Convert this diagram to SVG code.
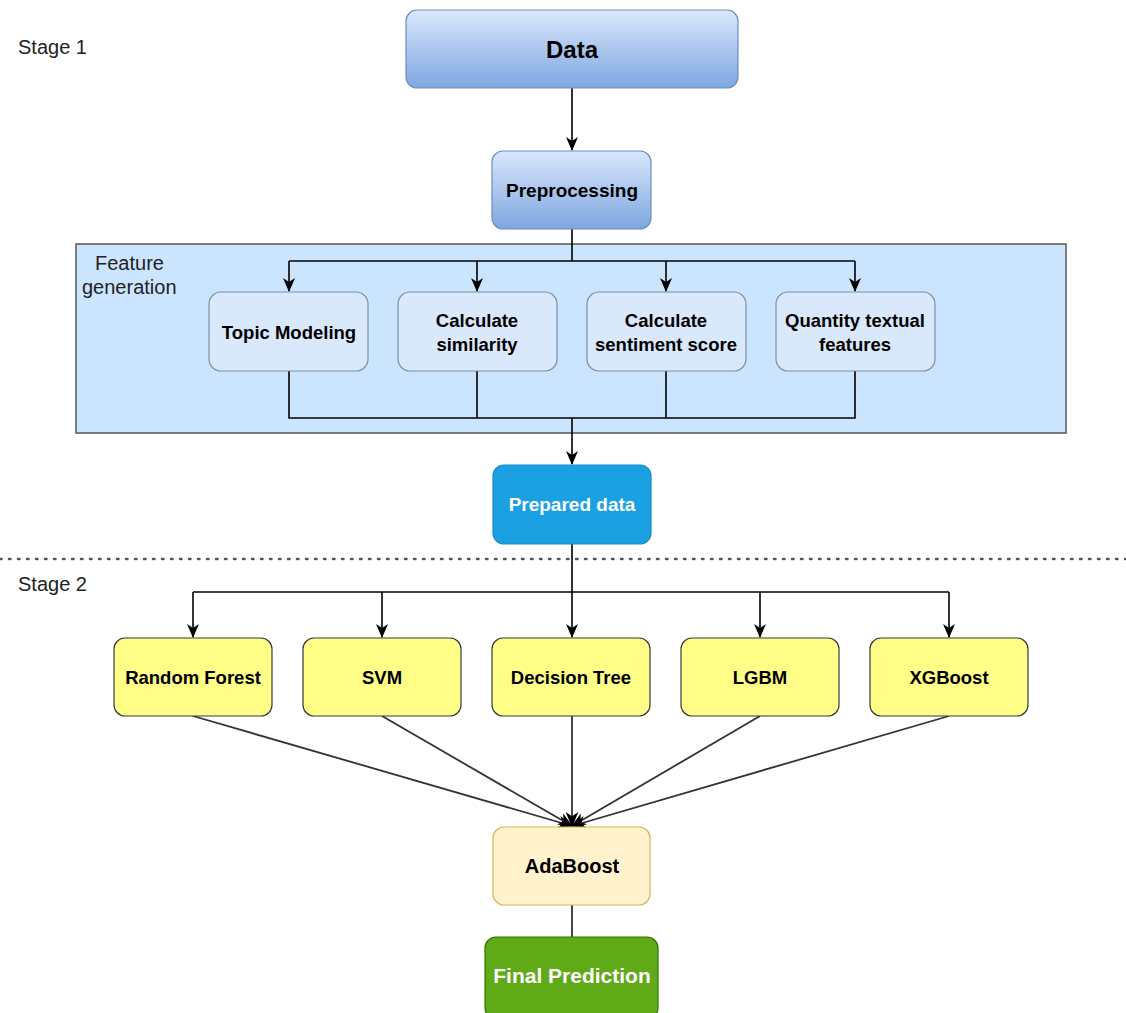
<svg xmlns="http://www.w3.org/2000/svg" width="1126" height="1013" viewBox="0 0 1126 1013">
<defs>
<linearGradient id="gBlue" x1="0" y1="0" x2="0" y2="1">
<stop offset="0" stop-color="#dae8fc"/>
<stop offset="1" stop-color="#7ea6e0"/>
</linearGradient>
<marker id="arr" viewBox="0 0 14 12" refX="13" refY="6" markerWidth="14" markerHeight="12" markerUnits="userSpaceOnUse" orient="auto">
<path d="M0,0 L14,6 L0,12 L4,6 Z" fill="#000"/>
</marker>
<marker id="arr2" viewBox="0 0 14 12" refX="13" refY="6" markerWidth="15" markerHeight="13" markerUnits="userSpaceOnUse" orient="auto">
<path d="M0,0 L14,6 L0,12 L4,6 Z" fill="#000"/>
</marker>
</defs>
<style>
text{font-family:"Liberation Sans",Arial,sans-serif;}
.lbl{font-size:20px;fill:#222;}
.b{font-weight:bold;font-size:18.5px;fill:#000;text-anchor:middle;}
.w{fill:#fff;}
.con{fill:none;stroke:#000;stroke-width:1.6;}
.feat{fill:#dae8fc;stroke:#7a8fa8;stroke-width:1.2;}
.yel{fill:#ffff88;stroke:#36393d;stroke-width:1.2;}
</style>
<rect width="1126" height="1013" fill="#fff"/>
<text class="lbl" x="18" y="54">Stage 1</text>
<text class="lbl" x="18" y="591">Stage 2</text>
<g id="feature-generation">
<rect x="76" y="244" width="990" height="189" fill="#cce5ff" stroke="#555" stroke-width="1.5"/>
<text class="lbl" x="95" y="270">Feature</text>
<text class="lbl" x="82" y="294">generation</text>
</g>
<line x1="0" y1="559" x2="1126" y2="559" stroke="#555" stroke-width="2.5" stroke-dasharray="1.5 7.5" stroke-linecap="round"/>
<g id="connectors">
<line class="con" x1="572" y1="88" x2="572" y2="150" marker-end="url(#arr)"/>
<path class="con" d="M572,229 V261 M289,261 H855"/>
<line class="con" x1="289" y1="261" x2="289" y2="291" marker-end="url(#arr)"/>
<line class="con" x1="477" y1="261" x2="477" y2="291" marker-end="url(#arr)"/>
<line class="con" x1="666" y1="261" x2="666" y2="291" marker-end="url(#arr)"/>
<line class="con" x1="855" y1="261" x2="855" y2="291" marker-end="url(#arr)"/>
<path class="con" d="M289,371 V418 H855 V371 M477,371 V418 M666,371 V418"/>
<line class="con" x1="572" y1="418" x2="572" y2="464" marker-end="url(#arr)"/>
<path class="con" d="M572,544 V592 M193,592 H949"/>
<line class="con" x1="193" y1="592" x2="193" y2="637" marker-end="url(#arr)"/>
<line class="con" x1="382" y1="592" x2="382" y2="637" marker-end="url(#arr)"/>
<line class="con" x1="572" y1="592" x2="572" y2="637" marker-end="url(#arr)"/>
<line class="con" x1="760" y1="592" x2="760" y2="637" marker-end="url(#arr)"/>
<line class="con" x1="949" y1="592" x2="949" y2="637" marker-end="url(#arr)"/>
<g stroke="#333" stroke-width="1.8" fill="none">
<line x1="193" y1="716" x2="572" y2="826" marker-end="url(#arr2)"/>
<line x1="382" y1="716" x2="572" y2="826" marker-end="url(#arr2)"/>
<line x1="572" y1="716" x2="572" y2="826" marker-end="url(#arr2)"/>
<line x1="760" y1="716" x2="572" y2="826" marker-end="url(#arr2)"/>
<line x1="949" y1="716" x2="572" y2="826" marker-end="url(#arr2)"/>
<line x1="572" y1="905" x2="572" y2="937"/>
</g>
</g>
<g id="data">
<rect x="406" y="10" width="332" height="78" rx="11" fill="url(#gBlue)" stroke="#6c8ebf" stroke-width="1.2"/>
<text class="b" x="572" y="58" style="font-size:24px">Data</text>
</g>
<g id="preprocessing">
<rect x="492" y="151" width="159" height="78" rx="11" fill="url(#gBlue)" stroke="#6c8ebf" stroke-width="1.2"/>
<text class="b" x="572" y="197" style="font-size:19px">Preprocessing</text>
</g>
<g id="topic-modeling">
<rect class="feat" x="209" y="292" width="159" height="79" rx="12"/>
<text class="b" x="289" y="339">Topic Modeling</text>
</g>
<g id="calculate-similarity">
<rect class="feat" x="398" y="292" width="159" height="79" rx="12"/>
<text class="b" x="477" y="327">Calculate</text>
<text class="b" x="477" y="351">similarity</text>
</g>
<g id="calculate-sentiment">
<rect class="feat" x="587" y="292" width="159" height="79" rx="12"/>
<text class="b" x="666" y="327">Calculate</text>
<text class="b" x="666" y="351">sentiment score</text>
</g>
<g id="quantity-textual">
<rect class="feat" x="776" y="292" width="159" height="79" rx="12"/>
<text class="b" x="855" y="327">Quantity textual</text>
<text class="b" x="855" y="351">features</text>
</g>
<g id="prepared-data">
<rect x="493" y="465" width="158" height="79" rx="11" fill="#1ba1e2" stroke="#1a8ac8" stroke-width="1.2"/>
<text class="b w" x="572" y="511" style="font-size:19px">Prepared data</text>
</g>
<g id="random-forest">
<rect class="yel" x="114" y="638" width="158" height="78" rx="11"/>
<text class="b" x="193" y="684">Random Forest</text>
</g>
<g id="svm">
<rect class="yel" x="303" y="638" width="158" height="78" rx="11"/>
<text class="b" x="382" y="684">SVM</text>
</g>
<g id="decision-tree">
<rect class="yel" x="492" y="638" width="158" height="78" rx="11"/>
<text class="b" x="571" y="684">Decision Tree</text>
</g>
<g id="lgbm">
<rect class="yel" x="681" y="638" width="158" height="78" rx="11"/>
<text class="b" x="760" y="684">LGBM</text>
</g>
<g id="xgboost">
<rect class="yel" x="870" y="638" width="158" height="78" rx="11"/>
<text class="b" x="949" y="684">XGBoost</text>
</g>
<g id="adaboost">
<rect x="493" y="827" width="157" height="78" rx="11" fill="#fff2cc" stroke="#d6b656" stroke-width="1.2"/>
<text class="b" x="572" y="873" style="font-size:20px">AdaBoost</text>
</g>
<g id="final-prediction">
<rect x="485" y="937" width="173" height="82" rx="11" fill="#60a917" stroke="#2d7600" stroke-width="1.2"/>
<text class="b w" x="572" y="983" style="font-size:21px">Final Prediction</text>
</g>
</svg>
